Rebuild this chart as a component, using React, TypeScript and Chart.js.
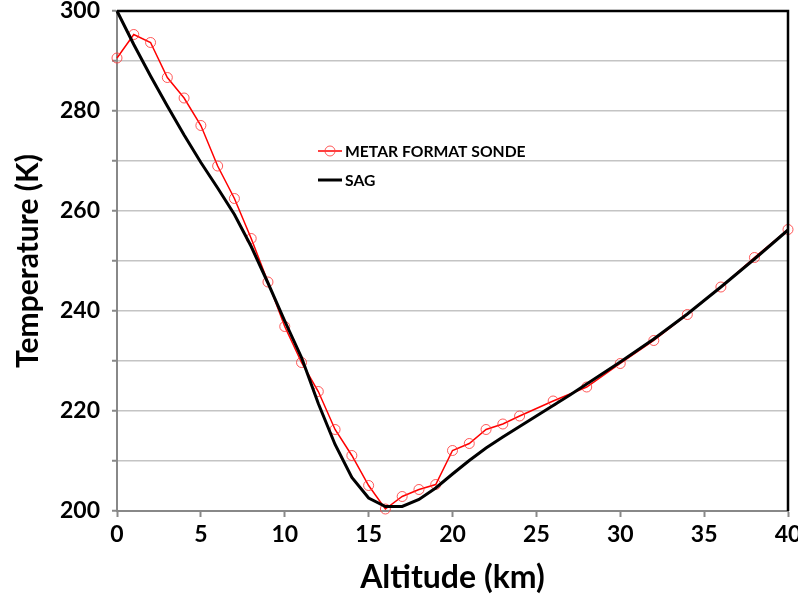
import React, { useEffect, useRef } from 'react';
import { Chart, registerables } from 'chart.js';

Chart.register(...registerables);

// ---- data ----
const sondeAltitude = [0, 1, 2, 3, 4, 5, 6, 7, 8, 9, 10, 11, 12, 13, 14, 15, 16, 17, 18, 19, 20, 21, 22, 23, 24, 26, 28, 30, 32, 34, 36, 38, 40];
const sondeTemp = [290.6, 295.3, 293.7, 286.7, 282.6, 277.1, 269.0, 262.5, 254.5, 245.8, 236.9, 229.7, 223.9, 216.3, 211.1, 205.1, 200.4, 202.9, 204.3, 205.3, 212.1, 213.5, 216.3, 217.4, 219.0, 222.0, 224.8, 229.5, 234.1, 239.3, 244.8, 250.7, 256.3];

const sagAltitude = [0, 1, 2, 3, 4, 5, 6, 7, 8, 9, 10, 11, 12, 13, 14, 15, 16, 17, 18, 19, 20, 21, 22, 23, 24, 25, 26, 27, 28, 29, 30, 32, 34, 36, 38, 40];
const sagTemp = [300, 293.3, 287.0, 281.0, 275.2, 269.7, 264.6, 259.3, 252.9, 245.6, 238.0, 230.7, 221.5, 213.3, 206.7, 202.6, 200.9, 200.9, 202.3, 204.6, 207.4, 210.1, 212.6, 214.8, 216.9, 219.0, 221.1, 223.2, 225.4, 227.6, 229.8, 234.4, 239.4, 244.8, 250.4, 256.2];

const seriesNames = ['METAR FORMAT SONDE', 'SAG'];
const xTitle = 'Altitude (km)';
const yTitle = 'Temperature (K)';
const xMin = 0, xMax = 40, xStep = 5;
const yMin = 200, yMax = 300, yGridStep = 10, yLabelStep = 20;

const FONT = 'Lato, "Open Sans", "DejaVu Sans", sans-serif';

const framePlugin = {
  id: 'frameAndLegend',
  afterDraw(chart: any) {
    const ctx = chart.ctx;
    const { left, right, top, bottom } = chart.chartArea;
    ctx.save();
    // black top and right frame
    ctx.strokeStyle = '#000';
    ctx.lineWidth = 2.5;
    ctx.beginPath();
    ctx.moveTo(left, top);
    ctx.lineTo(right, top);
    ctx.lineTo(right, bottom);
    ctx.stroke();

    // legend
    const lx = 318, lw = 24, tx = 345;
    const y1 = 151, y2 = 180;
    ctx.strokeStyle = '#ff0000';
    ctx.lineWidth = 1.5;
    ctx.beginPath();
    ctx.moveTo(lx, y1);
    ctx.lineTo(lx + lw, y1);
    ctx.stroke();
    ctx.strokeStyle = 'rgba(255,60,60,0.85)';
    ctx.lineWidth = 1;
    ctx.beginPath();
    ctx.arc(lx + lw / 2, y1, 5, 0, Math.PI * 2);
    ctx.stroke();

    ctx.strokeStyle = '#000';
    ctx.lineWidth = 3;
    ctx.beginPath();
    ctx.moveTo(lx, y2);
    ctx.lineTo(lx + lw, y2);
    ctx.stroke();

    ctx.fillStyle = '#000';
    ctx.font = `bold 15.7px ${FONT}`;
    ctx.textBaseline = 'middle';
    ctx.textAlign = 'left';
    ctx.fillText(seriesNames[0], tx, y1 + 1);
    ctx.fillText(seriesNames[1], tx, y2 + 1);
    ctx.restore();
  },
};

export default function App() {
  const ref = useRef<HTMLCanvasElement | null>(null);

  useEffect(() => {
    if (!ref.current) return;
    const sonde = sondeAltitude.map((x, i) => ({ x, y: sondeTemp[i] }));
    const sag = sagAltitude.map((x, i) => ({ x, y: sagTemp[i] }));
    const chart = new Chart(ref.current, {
      type: 'line',
      data: {
        datasets: [
          {
            label: seriesNames[0],
            data: sonde,
            borderColor: '#ff0000',
            borderWidth: 1.5,
            pointRadius: 5,
            pointStyle: 'circle',
            pointBorderColor: 'rgba(255,60,60,0.85)',
            pointBackgroundColor: 'rgba(0,0,0,0)',
            pointBorderWidth: 1,
            tension: 0,
            clip: false as any,
            order: 1,
          },
          {
            label: seriesNames[1],
            data: sag,
            borderColor: '#000000',
            borderWidth: 3,
            pointRadius: 0,
            tension: 0,
            clip: false as any,
            order: 0,
          },
        ],
      },
      options: {
        animation: false,
        responsive: false,
        layout: { padding: { top: 11, right: 10, left: 0, bottom: 0 } },
        plugins: {
          legend: { display: false },
          tooltip: { enabled: false },
        },
        scales: {
          x: {
            type: 'linear',
            min: xMin,
            max: xMax,
            afterFit: (s: any) => {
              s.height = 87;
              s.paddingLeft = 0;
              s.paddingRight = 0;
            },
            ticks: {
              stepSize: xStep,
              color: '#000',
              padding: 4,
              font: { family: FONT, size: 23, weight: 'bold' },
            },
            grid: {
              drawOnChartArea: false,
              drawTicks: true,
              tickLength: 6,
              tickColor: '#888',
              tickWidth: 2,
            },
            border: { color: '#888', width: 2 },
            title: {
              display: true,
              text: xTitle,
              color: '#000',
              font: { family: FONT, size: 32, weight: 'bold' },
              padding: { top: 0, bottom: 1 },
            },
          },
          y: {
            type: 'linear',
            min: yMin,
            max: yMax,
            afterFit: (s: any) => {
              s.width = 117;
              s.paddingTop = 0;
              s.paddingBottom = 0;
            },
            ticks: {
              stepSize: yGridStep,
              color: '#000',
              padding: 12,
              font: { family: FONT, size: 23, weight: 'bold' },
              callback: (v: any) => (Number(v) % yLabelStep === 0 ? String(v) : ''),
            },
            grid: {
              color: '#c4c4c4',
              lineWidth: 1.5,
              drawTicks: true,
              tickLength: 5,
              tickColor: '#888',
              tickWidth: 2,
            },
            border: { color: '#888', width: 2 },
            title: {
              display: true,
              text: yTitle,
              color: '#000',
              font: { family: FONT, size: 30, weight: 'bold' },
              padding: { top: 10, bottom: 0 },
            },
          },
        },
      },
      plugins: [framePlugin],
    });
    return () => chart.destroy();
  }, []);

  return (
    <div style={{ position: 'absolute', left: 0, top: 0, width: 798, height: 598, background: '#fff' }}>
      <canvas ref={ref} width={798} height={598} style={{ display: 'block' }} />
    </div>
  );
}
